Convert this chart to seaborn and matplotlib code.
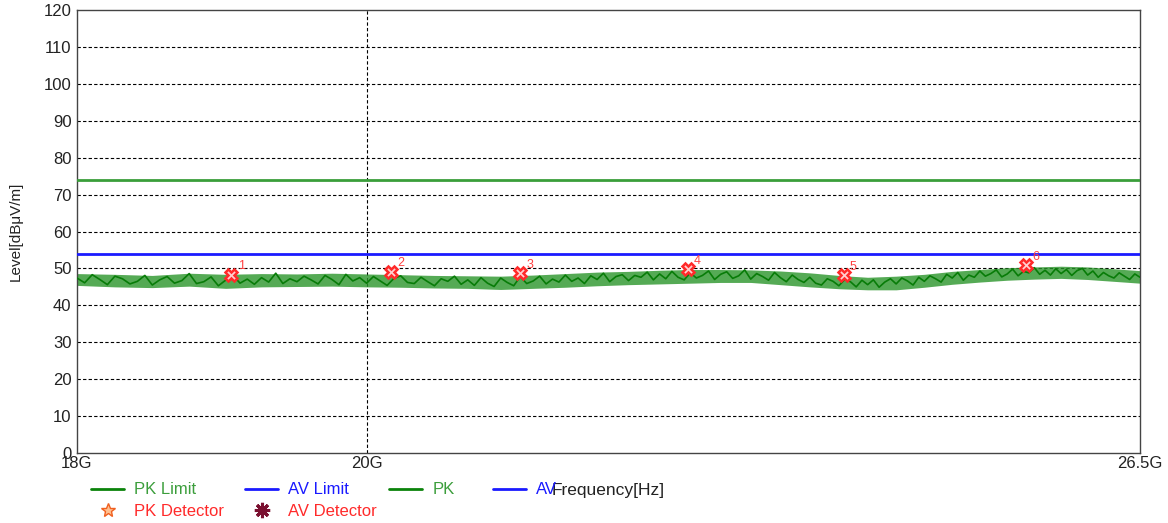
import numpy as np
import pandas as pd
import matplotlib
matplotlib.use("Agg")
import matplotlib.pyplot as plt
from matplotlib.lines import Line2D
import seaborn as sns

# ---------------- data ----------------
limit_freq_ghz = [18.0, 26.5]
pk_limit = [74.0, 74.0]
av_limit = [54.0, 54.0]

# band envelope of the PK trace (every 0.25 GHz from 18.0 to 26.5)
env_freq_ghz = [18.0, 18.25, 18.5, 18.75, 19.0, 19.25, 19.5, 19.75, 20.0, 20.25,
                20.5, 20.75, 21.0, 21.25, 21.5, 21.75, 22.0, 22.25, 22.5, 22.75,
                23.0, 23.25, 23.5, 23.75, 24.0, 24.25, 24.5, 24.75, 25.0, 25.25,
                25.5, 25.75, 26.0, 26.25, 26.5]
env_lower = [45.4, 45.0, 44.8, 45.2, 44.6, 45.0, 45.1, 45.2, 45.0, 44.9,
             44.7, 44.6, 44.3, 44.6, 44.9, 45.3, 45.6, 45.8, 46.0, 46.2,
             46.2, 45.6, 45.0, 44.5, 44.2, 44.2, 44.9, 45.7, 46.3, 46.8,
             47.1, 47.3, 47.0, 46.5, 46.0]
env_upper = [48.6, 48.4, 48.1, 48.7, 48.4, 48.6, 48.5, 48.7, 48.5, 48.3,
             48.1, 48.0, 47.9, 48.2, 48.6, 49.0, 49.2, 49.5, 49.7, 49.7,
             49.6, 49.3, 48.8, 48.1, 47.6, 47.9, 48.4, 49.2, 49.7, 50.2,
             50.4, 50.6, 50.4, 49.9, 49.4]

# PK trace samples (every 0.05 GHz from 18.0 to 26.5)
pk_trace = [
    47.4, 46.1, 48.3, 47.0, 45.6, 47.9, 47.2, 45.8, 46.5, 48.1,
    45.5, 46.9, 47.8, 46.0, 46.7, 48.6, 45.9, 46.4, 47.7, 45.3,
    46.8, 48.2, 46.0, 47.1, 45.7, 47.5, 46.3, 48.7, 45.9, 47.2,
    46.4, 47.9, 46.9, 45.8, 48.1, 47.0, 45.6, 48.4, 46.6, 47.5,
    46.0, 47.8, 46.6, 45.4, 47.3, 48.0, 46.2, 45.9, 47.6, 46.4,
    45.3, 47.2, 46.5, 47.9, 45.7, 46.9, 45.4, 47.5, 46.0, 45.1,
    47.4, 46.2, 45.3, 47.8, 45.9, 46.6, 47.9, 45.8, 47.1, 46.3,
    48.2, 46.5, 47.4, 45.9, 48.0, 47.0, 48.7, 46.4, 47.8, 48.3,
    46.7, 48.1, 47.6, 49.0, 46.9, 48.5, 47.2, 49.2, 47.6, 46.9,
    48.8, 47.4, 48.1, 49.3, 47.0, 48.4, 49.1, 47.3, 48.0, 49.6,
    47.1, 48.6, 47.8, 46.8, 48.9, 47.5, 46.4, 48.2, 47.0, 46.2,
    47.6, 46.0, 45.5, 47.2, 46.5, 45.3, 47.0, 46.4, 45.0, 46.8,
    45.6, 46.9, 44.9, 46.3, 47.2, 45.8, 47.4, 46.6, 45.5, 47.6,
    46.5, 48.0, 47.2, 46.3, 48.4, 47.4, 48.9, 46.8, 48.2, 47.6,
    49.3, 47.9, 48.6, 49.6, 47.7, 48.5, 49.8, 48.0, 49.2, 48.8,
    50.2, 48.4, 49.5, 48.2, 49.9, 48.6, 49.7, 48.1, 49.4, 50.0,
    48.2, 49.3, 47.6, 48.9, 48.0, 47.4, 48.8, 47.9, 47.0, 48.5,
    47.6]
pk_freq_ghz = np.linspace(18.0, 26.5, len(pk_trace))

# marked peaks
mark_ids = ["1", "2", "3", "4", "5", "6"]
mark_freq_ghz = [19.04, 20.18, 21.15, 22.48, 23.79, 25.42]
mark_level = [48.3, 49.1, 48.7, 49.8, 48.1, 50.9]

y_ticks = list(range(0, 121, 10))
x_ticks = [18.0, 20.0, 26.5]
x_tick_labels = ["18G", "20G", "26.5G"]

# ---------------- style ----------------
sns.set_style("white")
plt.rcParams["font.family"] = ["Liberation Sans", "DejaVu Sans"]

GREEN_TRACE = "#0b830b"
GREEN_LIMIT = "#3a9e3a"
GREEN_TEXT = "#3c9e3c"
BLUE = "#1a1aff"
RED = "#ff2a2a"

fig = plt.figure(figsize=(11.68, 5.23), dpi=100)
ax = fig.add_axes([77 / 1168, 1 - 453 / 523, (1140 - 77) / 1168, (453 - 10) / 523])

ax.set_xscale("log")

# PK trace band + line
ax.fill_between(env_freq_ghz, env_lower, env_upper, color="#2b952b", alpha=0.8,
                linewidth=0, zorder=2)
sns.lineplot(x=pk_freq_ghz, y=pk_trace, ax=ax, color="#087c08", linewidth=1.2,
             estimator=None, sort=False, zorder=3)

# limits
sns.lineplot(x=limit_freq_ghz, y=pk_limit, ax=ax, color=GREEN_LIMIT, linewidth=2,
             estimator=None, zorder=4)
sns.lineplot(x=limit_freq_ghz, y=av_limit, ax=ax, color=BLUE, linewidth=2,
             estimator=None, zorder=4)

# markers
ax.plot(mark_freq_ghz, mark_level, linestyle="none", marker="X", markersize=9,
        markerfacecolor="#ffd0d0", markeredgecolor=RED, markeredgewidth=1.8, zorder=6)
for mid, f, lv in zip(mark_ids, mark_freq_ghz, mark_level):
    ax.annotate(mid, (f, lv), xytext=(4.5, 4), textcoords="offset points",
                color="#ff4040", fontsize=9, zorder=7)

# axes
ax.set_xlim(18.0, 26.5)
ax.set_ylim(0, 120)
ax.set_yticks(y_ticks)
ax.set_yticklabels([str(v) for v in y_ticks])
ax.xaxis.set_minor_locator(matplotlib.ticker.NullLocator())
ax.set_xticks(x_ticks)
ax.set_xticklabels(x_tick_labels)
ax.tick_params(axis="both", length=0, labelsize=12, colors="#222222")
ax.tick_params(axis="x", pad=2)
ax.tick_params(axis="y", pad=4)

for yv in y_ticks[1:-1]:
    ax.axhline(yv, color="black", linestyle=(0, (3, 2)), linewidth=0.8, zorder=1)
ax.axvline(20.0, color="black", linestyle=(0, (3, 2)), linewidth=0.8, zorder=1)

for sp in ax.spines.values():
    sp.set_color("#444444")
    sp.set_linewidth(1.0)

ax.set_ylabel("Level[dBμV/m]", fontsize=11, color="#222222", labelpad=15)
ax.set_xlabel("Frequency[Hz]", fontsize=12.5, color="#222222", labelpad=9)

# legend entries placed individually (handle start x, row centre y in pixels)
entries = [
    ("PK Limit", Line2D([0], [0], color=GREEN_TRACE, lw=2), GREEN_TEXT, 91, 490),
    ("AV Limit", Line2D([0], [0], color=BLUE, lw=2), BLUE, 245, 490),
    ("PK", Line2D([0], [0], color=GREEN_TRACE, lw=2), GREEN_TEXT, 389, 490),
    ("AV", Line2D([0], [0], color=BLUE, lw=2), BLUE, 493, 490),
    ("PK Detector", Line2D([0], [0], linestyle="none", marker="*", markersize=10,
                           markerfacecolor="#ffc090", markeredgecolor="#f06020"), RED, 91, 511),
    ("AV Detector", Line2D([0], [0], linestyle="none", marker=(8, 2, 0), markersize=11,
                           markeredgecolor="#7a1030", markeredgewidth=2.2), RED, 245, 511),
]
for label, handle, tcolor, px, py in entries:
    lg = fig.legend([handle], [label], loc="center left",
                    bbox_to_anchor=(px / 1168, 1 - py / 523), frameon=False,
                    fontsize=12, handlelength=2.0, handletextpad=0.6,
                    borderpad=0, borderaxespad=0)
    for t in lg.get_texts():
        t.set_color(tcolor)

fig.savefig("out.png", dpi=100)
